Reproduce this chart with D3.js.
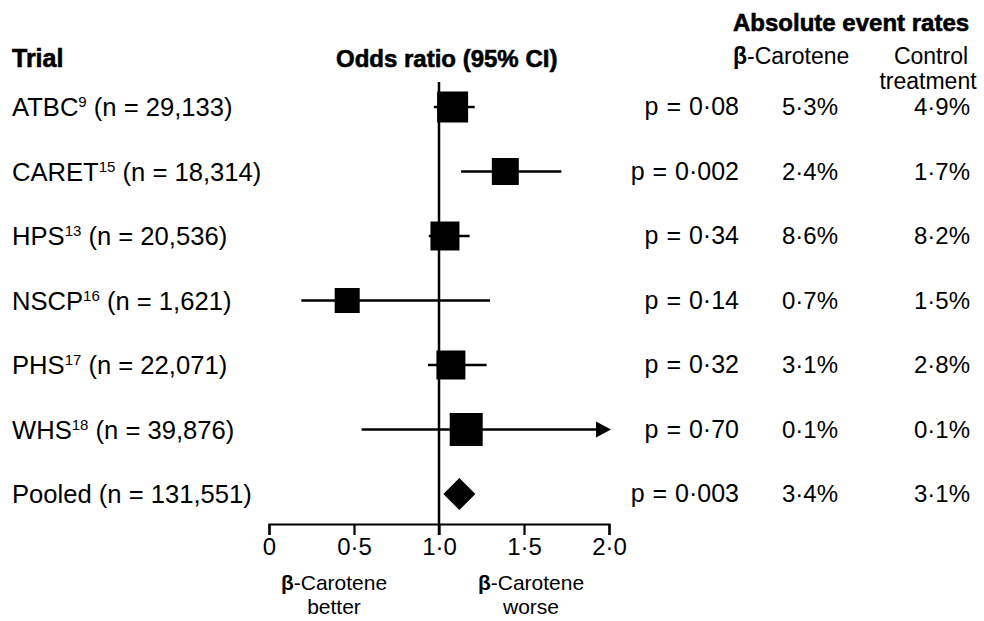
<!DOCTYPE html>
<html>
<head>
<meta charset="utf-8">
<script src="https://cdn.jsdelivr.net/npm/d3@7"></script>
<style>
  html, body { margin: 0; padding: 0; background: #fff; }
  svg { display: block; }
  text { font-family: "Liberation Sans", Arial, Helvetica, sans-serif; fill: #000; }
  .bold { font-weight: bold; }
  .heavy { font-weight: bold; stroke: #000; stroke-width: 0.6px; }
</style>
</head>
<body>
<svg id="chart" width="984" height="621"></svg>
<script>
// ---- data ----
const trials = ["ATBC", "CARET", "HPS", "NSCP", "PHS", "WHS", "Pooled"];
const refs = ["9", "15", "13", "16", "17", "18", ""];
const sampleSizes = ["29,133", "18,314", "20,536", "1,621", "22,071", "39,876", "131,551"];
const oddsRatio = [1.08, 1.39, 1.035, 0.46, 1.07, 1.16, 1.12];
const ciLow = [0.97, 1.13, 0.94, 0.19, 0.935, 0.545, null];
const ciHigh = [1.21, 1.72, 1.18, 1.30, 1.28, 2.5, null];
const weights = [18.9, 14.3, 16.5, 12.3, 16.5, 21.4, null];
const pValues = ["0·08", "0·002", "0·34", "0·14", "0·32", "0·70", "0·003"];
const betaRates = ["5·3%", "2·4%", "8·6%", "0·7%", "3·1%", "0·1%", "3·4%"];
const controlRates = ["4·9%", "1·7%", "8·2%", "1·5%", "2·8%", "0·1%", "3·1%"];
const tickValues = [0, 0.5, 1.0, 1.5, 2.0];
const tickLabels = ["0", "0·5", "1·0", "1·5", "2·0"];

// ---- scales ----
const svg = d3.select("#chart");
const x = d3.scaleLinear().domain([0, 2]).range([269, 609]);
const y = d3.scalePoint().domain(trials).range([107, 494]);
const size = d3.scaleSqrt().domain([0, 21.4]).range([0, 33]);
const xMax = 2.0;

// ---- headers ----
svg.append("text").attr("class", "heavy").attr("x", 12).attr("y", 67)
  .style("font-size", "25px").text("Trial");
svg.append("text").attr("class", "heavy").attr("x", 336).attr("y", 67)
  .style("font-size", "24px").text("Odds ratio (95% CI)");
svg.append("text").attr("class", "heavy").attr("x", 733).attr("y", 31)
  .style("font-size", "24px").text("Absolute event rates");
const bc = svg.append("text").attr("x", 733).attr("y", 64).style("font-size", "23px");
bc.append("tspan").attr("class", "bold").text("β");
bc.append("tspan").text("-Carotene");
svg.append("text").attr("x", 931).attr("y", 64).attr("text-anchor", "middle")
  .style("font-size", "23px").text("Control");
svg.append("text").attr("x", 928).attr("y", 89).attr("text-anchor", "middle")
  .style("font-size", "23px").text("treatment");

// ---- left labels ----
trials.forEach((t, i) => {
  const tx = svg.append("text").attr("x", 12).attr("y", y(t) + 9).style("font-size", "25.6px");
  tx.append("tspan").text(t);
  if (refs[i]) {
    tx.append("tspan").attr("dy", -9).style("font-size", "15px").text(refs[i]);
    tx.append("tspan").attr("dy", 9).text(" (n = " + sampleSizes[i] + ")");
  } else {
    tx.append("tspan").text(" (n = " + sampleSizes[i] + ")");
  }
});

// ---- reference line ----
svg.append("line")
  .attr("x1", x(1)).attr("x2", x(1)).attr("y1", 82).attr("y2", 535)
  .attr("stroke", "#000").attr("stroke-width", 2.5);

// ---- axis ----
const axis = d3.axisBottom(x).tickValues(tickValues)
  .tickFormat((d, i) => tickLabels[i]).tickSize(11).tickSizeOuter(11).tickPadding(3);
const gAxis = svg.append("g").attr("transform", "translate(0,524)").call(axis);
gAxis.select(".domain").attr("stroke", "#000").attr("stroke-width", 2.2);
gAxis.selectAll(".tick line").attr("stroke", "#000").attr("stroke-width", 2.2);
gAxis.selectAll(".tick text").style("font-size", "24px")
  .style("font-family", "'Liberation Sans', Arial, sans-serif").attr("fill", "#000");

// ---- CI lines and markers ----
trials.forEach((t, i) => {
  const cy = y(t);
  if (ciLow[i] !== null) {
    const hiClamped = Math.min(ciHigh[i], xMax);
    svg.append("line")
      .attr("x1", x(ciLow[i])).attr("x2", ciHigh[i] > xMax ? x(hiClamped) - 12 : x(hiClamped))
      .attr("y1", cy).attr("y2", cy)
      .attr("stroke", "#000").attr("stroke-width", 2.5);
    if (ciHigh[i] > xMax) {
      const ax = x(hiClamped);
      svg.append("path")
        .attr("d", `M${ax + 2},${cy} L${ax - 13},${cy - 8} L${ax - 13},${cy + 8} Z`)
        .attr("fill", "#000");
    }
    const s = size(weights[i]);
    svg.append("rect")
      .attr("x", x(oddsRatio[i]) - s / 2).attr("y", cy - s / 2)
      .attr("width", s).attr("height", s).attr("fill", "#000");
  } else {
    const cx = x(oddsRatio[i]);
    svg.append("path")
      .attr("d", `M${cx},${cy - 16} L${cx + 16},${cy} L${cx},${cy + 16} L${cx - 16},${cy} Z`)
      .attr("fill", "#000");
  }
  // p-values and rates
  svg.append("text").attr("x", 739).attr("y", cy + 8).attr("text-anchor", "end")
    .style("font-size", "25px").style("word-spacing", "1px").text("p = " + pValues[i]);
  svg.append("text").attr("x", 838).attr("y", cy + 8).attr("text-anchor", "end")
    .style("font-size", "24px").text(betaRates[i]);
  svg.append("text").attr("x", 970).attr("y", cy + 8).attr("text-anchor", "end")
    .style("font-size", "24px").text(controlRates[i]);
});

// ---- bottom direction labels ----
function dirLabel(cx, second) {
  const t1 = svg.append("text").attr("x", cx).attr("y", 590).attr("text-anchor", "middle")
    .style("font-size", "21px");
  t1.append("tspan").attr("class", "bold").text("β");
  t1.append("tspan").text("-Carotene");
  svg.append("text").attr("x", cx).attr("y", 614).attr("text-anchor", "middle")
    .style("font-size", "21px").text(second);
}
dirLabel(334, "better");
dirLabel(531, "worse");
</script>
</body>
</html>
